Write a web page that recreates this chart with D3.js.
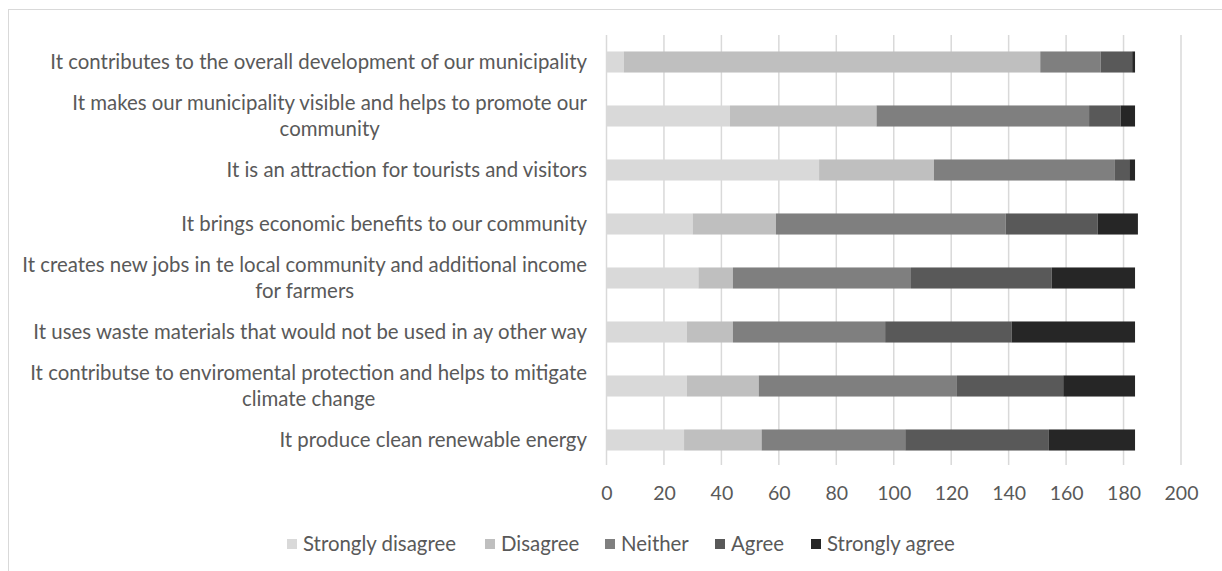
<!DOCTYPE html>
<html>
<head>
<meta charset="utf-8">
<script src="https://cdn.jsdelivr.net/npm/d3@7"></script>
<style>
  body { margin: 0; background: #fff; }
  text { font-family: Lato, sans-serif; fill: #595959; }
</style>
</head>
<body>
<script>
// categories, top to bottom
const categories = [
  ["It contributes to the overall development of our municipality"],
  ["It makes our municipality visible and helps to promote our", "community"],
  ["It is an attraction for tourists and visitors"],
  ["It brings economic benefits to our community"],
  ["It creates new jobs in te local community and additional income", "for farmers"],
  ["It uses waste materials that would not be used in ay other way"],
  ["It contributse to enviromental protection and helps to mitigate", "climate change"],
  ["It produce clean renewable energy"]
];
const seriesNames = ["Strongly disagree", "Disagree", "Neither", "Agree", "Strongly agree"];
const colors = ["#d9d9d9", "#bfbfbf", "#7f7f7f", "#595959", "#262626"];

const stronglyDisagree = [6, 43, 74, 30, 32, 28, 28, 27];
const disagree         = [145, 51, 40, 29, 12, 16, 25, 27];
const neither          = [21, 74, 63, 80, 62, 53, 69, 50];
const agree            = [11, 11, 5, 32, 49, 44, 37, 50];
const stronglyAgree    = [1, 5, 2, 14, 29, 43, 25, 30];
const xTicks = [0, 20, 40, 60, 80, 100, 120, 140, 160, 180, 200];

const w = 1222, h = 571;
const fontSize = 20.4;
const svg = d3.select("body").append("svg")
  .attr("width", w)
  .attr("height", h);

// chart border
svg.append("rect")
  .attr("x", 8.5).attr("y", 9.5)
  .attr("width", 1220).attr("height", 580)
  .attr("fill", "none")
  .attr("stroke", "#d9d9d9");

const x = d3.scaleLinear().domain([0, 200]).range([606.5, 1181]);
const y = d3.scaleBand()
  .domain(d3.range(categories.length))
  .range([35, 467])
  .paddingInner(0.61)
  .paddingOuter(0.305);

// gridlines
svg.append("g").selectAll("line")
  .data(xTicks)
  .join("line")
  .attr("x1", d => x(d)).attr("x2", d => x(d))
  .attr("y1", 35).attr("y2", 465)
  .attr("stroke", "#d9d9d9")
  .attr("stroke-width", 1.5);

// stack the series
const rows = categories.map((c, i) => ({
  i: i,
  "Strongly disagree": stronglyDisagree[i],
  "Disagree": disagree[i],
  "Neither": neither[i],
  "Agree": agree[i],
  "Strongly agree": stronglyAgree[i]
}));
const stacked = d3.stack().keys(seriesNames)(rows);

svg.append("g").selectAll("g")
  .data(stacked)
  .join("g")
  .attr("fill", (d, k) => colors[k])
  .selectAll("rect")
  .data(d => d)
  .join("rect")
  .attr("x", d => x(d[0]))
  .attr("y", d => y(d.data.i))
  .attr("width", d => x(d[1]) - x(d[0]))
  .attr("height", y.bandwidth());

// x axis tick labels
const xAxis = d3.axisBottom(x).tickValues(xTicks).tickSize(0).tickPadding(0);
const gx = svg.append("g")
  .attr("transform", "translate(0,493)")
  .call(xAxis);
gx.select(".domain").remove();
gx.selectAll("text")
  .attr("font-size", 19.5)
  .attr("dy", "0.35em")
  .style("font-family", "Lato, sans-serif")
  .attr("fill", "#595959");

// category labels
const labelRight = 587;
const lineH = 26;
categories.forEach((lines, i) => {
  const cy = y(i) + y.bandwidth() / 2;
  const g = svg.append("g");
  const t = g.selectAll("text")
    .data(lines)
    .join("text")
    .attr("font-size", fontSize)
    .attr("dy", "0.35em")
    .attr("y", (d, k) => cy + (k - (lines.length - 1) / 2) * lineH)
    .text(d => d);
  const widths = t.nodes().map(n => n.getComputedTextLength());
  const maxW = d3.max(widths);
  t.attr("text-anchor", "middle").attr("x", labelRight - maxW / 2);
});

// legend
const legendX = [287, 485, 605, 715, 811];
const legend = svg.append("g");
seriesNames.forEach((s, k) => {
  legend.append("rect")
    .attr("x", legendX[k]).attr("y", 539)
    .attr("width", 10).attr("height", 10)
    .attr("fill", colors[k]);
  legend.append("text")
    .attr("x", legendX[k] + 16).attr("y", 544)
    .attr("dy", "0.35em")
    .attr("font-size", fontSize)
    .text(s);
});
</script>
</body>
</html>
